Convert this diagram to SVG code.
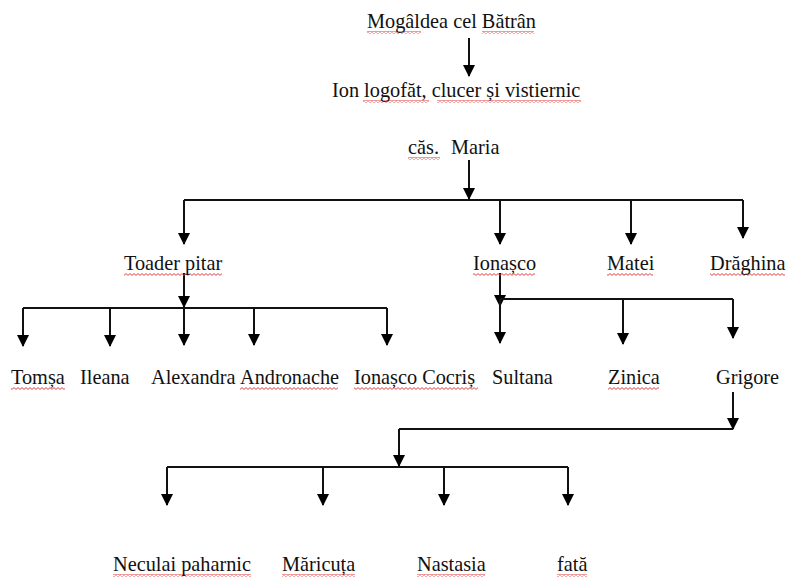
<svg xmlns="http://www.w3.org/2000/svg" width="788" height="577" viewBox="0 0 788 577">
<style>
text { font-family: "Liberation Serif", "Times New Roman", serif; font-size: 20.3px; fill: #111; }
.c line, .c path { stroke: #111; stroke-width: 2; fill: none; }
.arr { marker-end: url(#ah); }
.sq { fill: url(#squig); }
</style>
<defs>
<marker id="ah" markerUnits="userSpaceOnUse" markerWidth="12" markerHeight="12" refX="11" refY="6" orient="auto">
<path d="M0,0 L12,6 L0,12 z" fill="#000"/>
</marker>
<pattern id="squig" patternUnits="userSpaceOnUse" x="0" y="0" width="4" height="3">
<polyline points="0,2.4 2,0.6 4,2.4" fill="none" stroke="#d33" stroke-width="0.9"/>
</pattern>
</defs>
<rect width="788" height="577" fill="#fff"/>

<g class="c" id="connectors">
<line class="arr" x1="469" y1="38" x2="469" y2="76"/>
<line class="arr" x1="469" y1="160" x2="469" y2="199"/>
<line x1="184" y1="200" x2="743" y2="200"/>
<line class="arr" x1="184" y1="200" x2="184" y2="244"/>
<line class="arr" x1="500" y1="200" x2="500" y2="244"/>
<line class="arr" x1="631" y1="200" x2="631" y2="244"/>
<line class="arr" x1="743" y1="200" x2="743" y2="238"/>

<line class="arr" x1="184" y1="273" x2="184" y2="307"/>
<line x1="23" y1="308" x2="387" y2="308"/>
<line class="arr" x1="23" y1="308" x2="23" y2="346"/>
<line class="arr" x1="110" y1="308" x2="110" y2="346"/>
<line class="arr" x1="184" y1="308" x2="184" y2="345"/>
<line class="arr" x1="254" y1="308" x2="254" y2="345"/>
<line class="arr" x1="387" y1="308" x2="387" y2="345"/>

<line class="arr" x1="500" y1="273" x2="500" y2="306"/>
<line x1="500" y1="299" x2="733" y2="299"/>
<line class="arr" x1="500" y1="299" x2="500" y2="343"/>
<line class="arr" x1="623" y1="299" x2="623" y2="344"/>
<line class="arr" x1="733" y1="299" x2="733" y2="338"/>

<line class="arr" x1="733" y1="392" x2="733" y2="429"/>
<line x1="399" y1="429" x2="733" y2="429"/>
<line class="arr" x1="399" y1="429" x2="399" y2="466"/>
<line x1="167" y1="467" x2="568" y2="467"/>
<line class="arr" x1="167" y1="467" x2="167" y2="505"/>
<line class="arr" x1="323" y1="467" x2="323" y2="505"/>
<line class="arr" x1="444" y1="467" x2="444" y2="505"/>
<line class="arr" x1="568" y1="467" x2="568" y2="505"/>
</g>

<g id="n-mogaldea">
<rect class="sq" x="367" y="31" width="54" height="3"/>
<rect class="sq" x="482" y="31" width="52" height="3"/>
<text x="367" y="28">Mogâldea cel Bătrân</text>
</g>
<g id="n-ion">
<rect class="sq" x="363" y="100" width="66" height="3"/>
<rect class="sq" x="437" y="100" width="144" height="3"/>
<text x="332" y="97">Ion logofăt, clucer și vistiernic</text>
</g>
<g id="n-maria">
<rect class="sq" x="408" y="157" width="32" height="3"/>
<text x="408" y="154">căs.</text>
<text x="451" y="154">Maria</text>
</g>
<g id="n-toader">
<rect class="sq" x="124" y="273" width="98" height="3"/>
<text x="124" y="270">Toader pitar</text>
</g>
<g id="n-ionasco">
<rect class="sq" x="473" y="273" width="62" height="3"/>
<text x="473" y="270">Ionașco</text>
</g>
<g id="n-matei">
<rect class="sq" x="607" y="273" width="46" height="3"/>
<text x="607" y="270">Matei</text>
</g>
<g id="n-draghina">
<rect class="sq" x="710" y="273" width="75" height="3"/>
<text x="710" y="270">Drăghina</text>
</g>
<g id="n-tomsa">
<rect class="sq" x="11" y="387" width="54" height="3"/>
<text x="11" y="384">Tomșa</text>
</g>
<g id="n-ileana"><text x="80" y="384">Ileana</text></g>
<g id="n-alexandra"><text x="151" y="384">Alexandra</text></g>
<g id="n-andronache">
<rect class="sq" x="240" y="387" width="98" height="3"/>
<text x="240" y="384">Andronache</text>
</g>
<g id="n-ionasco-cocris">
<rect class="sq" x="354" y="387" width="124" height="3"/>
<text x="354" y="384">Ionașco Cocriș</text>
</g>
<g id="n-sultana"><text x="492" y="384">Sultana</text></g>
<g id="n-zinica">
<rect class="sq" x="608" y="387" width="51" height="3"/>
<text x="608" y="384">Zinica</text>
</g>
<g id="n-grigore"><text x="716" y="384">Grigore</text></g>
<g id="n-neculai">
<rect class="sq" x="113" y="574" width="138" height="3"/>
<text x="113" y="571">Neculai paharnic</text>
</g>
<g id="n-maricuta">
<rect class="sq" x="282" y="574" width="73" height="3"/>
<text x="282" y="571">Măricuța</text>
</g>
<g id="n-nastasia">
<rect class="sq" x="417" y="574" width="68" height="3"/>
<text x="417" y="571">Nastasia</text>
</g>
<g id="n-fata">
<rect class="sq" x="557" y="574" width="30" height="3"/>
<text x="557" y="571">fată</text>
</g>
</svg>
